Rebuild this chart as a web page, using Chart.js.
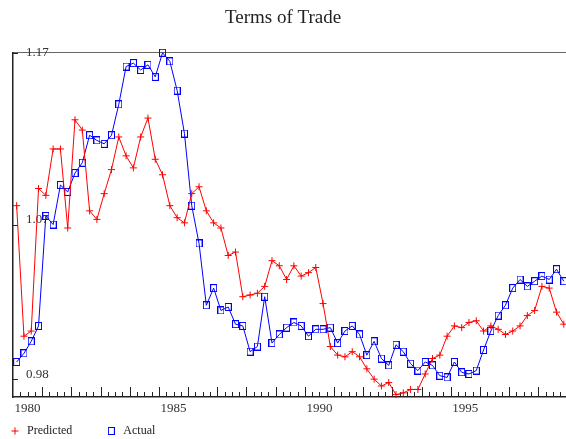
<!DOCTYPE html>
<html>
<head>
<meta charset="utf-8">
<script src="https://cdn.jsdelivr.net/npm/chart.js@4/dist/chart.umd.min.js"></script>
<style>
  body { margin: 0; background: #fff; overflow: hidden; }
</style>
</head>
<body>
<canvas id="grafico" width="566" height="439"></canvas>
<script>
// quarters 1980Q1 .. 1998Q4
const startYear = 1980;
const endYear = 1998;
const quarters = [];
for (let yr = startYear; yr <= endYear; yr++) {
  for (let q = 1; q <= 4; q++) quarters.push(yr + "Q" + q);
}

const predicted = [
  1.081, 1.005, 1.008, 1.091, 1.087, 1.114, 1.114, 1.068, 1.131, 1.125,
  1.078, 1.073, 1.088, 1.102, 1.121, 1.110, 1.103, 1.121, 1.132, 1.108,
  1.099, 1.081, 1.074, 1.071, 1.088, 1.092, 1.078, 1.071, 1.068, 1.052,
  1.054, 1.028, 1.029, 1.030, 1.034, 1.049, 1.046, 1.038, 1.046, 1.040,
  1.042, 1.045, 1.024, 0.999, 0.994, 0.993, 0.996, 0.993, 0.986, 0.980,
  0.976, 0.978, 0.971, 0.972, 0.974, 0.974, 0.983, 0.992, 0.994, 1.005,
  1.011, 1.010, 1.013, 1.014, 1.008, 1.011, 1.009, 1.006, 1.008, 1.011,
  1.017, 1.020, 1.034, 1.033, 1.019, 1.012
];

const actual = [
  0.990, 0.995, 1.002, 1.011, 1.075, 1.070, 1.093, 1.089, 1.100, 1.106,
  1.122, 1.119, 1.117, 1.122, 1.140, 1.162, 1.164, 1.160, 1.163, 1.156,
  1.170, 1.165, 1.148, 1.123, 1.081, 1.059, 1.023, 1.033, 1.020, 1.022,
  1.012, 1.011, 0.996, 0.999, 1.028, 1.001, 1.006, 1.010, 1.013, 1.011,
  1.005, 1.009, 1.009, 1.010, 1.001, 1.008, 1.011, 1.006, 0.994, 1.002,
  0.992, 0.988, 1.000, 0.996, 0.989, 0.985, 0.990, 0.988, 0.982, 0.981,
  0.990, 0.984, 0.983, 0.985, 0.997, 1.008, 1.017, 1.023, 1.033, 1.038,
  1.034, 1.037, 1.040, 1.038, 1.044, 1.037
];

const yTickValues = [0.98, 1.07, 1.17];
const xLabelYears = [1980, 1985, 1990, 1995];
const yMin = 0.9696;
const yMax = 1.17;

// quarter label -> position in years (middle of the quarter)
function quarterPos(label) {
  const yr = Number(label.slice(0, 4));
  const q = Number(label.slice(5));
  return yr + (q - 0.5) / 4;
}

function serie(values) {
  return quarters.map((lab, i) => ({ x: quarterPos(lab), y: values[i] }));
}

// hollow blue rectangle marker
const cajita = document.createElement("canvas");
cajita.width = 7;
cajita.height = 8;
const cctx = cajita.getContext("2d");
cctx.strokeStyle = "#0000ff";
cctx.lineWidth = 1;
cctx.strokeRect(0.5, 0.5, 6, 7);

Chart.defaults.font.family = "'Liberation Serif', 'Times New Roman', serif";
Chart.defaults.color = "#222";

// small tick marks pointing into the plot
const marcas = {
  id: "marcas",
  beforeDatasetsDraw(chart) {
    const { ctx, chartArea, scales } = chart;
    const x = scales.x, y = scales.y;
    ctx.save();
    ctx.strokeStyle = "#222";
    ctx.lineWidth = 1;
    ctx.beginPath();
    for (let yr = startYear; yr <= endYear + 1; yr++) {
      for (let q = 0; q < 4; q++) {
        const px = Math.round(x.getPixelForValue(yr + q / 4)) + 0.5;
        if (px <= chartArea.left + 1 || px > chartArea.right) continue;
        const len = q === 0 ? 10 : 5;
        ctx.moveTo(px, chartArea.bottom);
        ctx.lineTo(px, chartArea.bottom - len);
      }
    }
    yTickValues.forEach((v) => {
      const py = Math.round(y.getPixelForValue(v)) + 0.5;
      ctx.moveTo(chartArea.left, py);
      ctx.lineTo(chartArea.left + 5, py);
    });
    ctx.stroke();
    ctx.restore();
  }
};

const config = {
  type: "line",
  data: {
    datasets: [
      {
        label: "Predicted",
        data: serie(predicted),
        borderColor: "#ff0000",
        backgroundColor: "#ff0000",
        borderWidth: 1,
        pointStyle: "cross",
        pointRadius: 3.5,
        pointBorderWidth: 1,
        pointBorderColor: "#ff0000",
        tension: 0,
        clip: false
      },
      {
        label: "Actual",
        data: serie(actual),
        borderColor: "#0000ff",
        backgroundColor: "#0000ff",
        borderWidth: 1,
        pointStyle: cajita,
        pointRadius: 4,
        tension: 0,
        clip: false
      }
    ]
  },
  options: {
    responsive: false,
    animation: false,
    events: [],
    layout: { padding: 0, autoPadding: false },
    scales: {
      x: {
        type: "linear",
        position: "bottom",
        min: 1980,
        max: 1998.95,
        afterBuildTicks: (scale) => {
          scale.ticks = xLabelYears.map((yr) => ({ value: yr + 0.5 }));
        },
        afterFit: (scale) => { scale.height = 19; },
        ticks: {
          callback: (v) => String(Math.floor(v)),
          font: { size: 13 },
          color: "#333",
          padding: 3.4,
          maxRotation: 0,
          autoSkip: false
        },
        grid: { display: false, drawTicks: false },
        border: { display: true, color: "#222", width: 1.5 }
      },
      x2: {
        type: "linear",
        position: "top",
        min: 0,
        max: 1,
        ticks: { display: false },
        grid: { display: false, drawTicks: false },
        border: { display: true, color: "#666", width: 1 }
      },
      // outer left axis: line + lower labels
      y: {
        type: "linear",
        position: "left",
        weight: 1,
        min: yMin,
        max: yMax,
        afterBuildTicks: (scale) => {
          scale.ticks = yTickValues.slice(0, 2).map((v) => ({ value: v }));
        },
        afterFit: (scale) => { scale.width = 13; },
        ticks: {
          mirror: true,
          padding: 13,
          labelOffset: -5,
          font: { size: 13 },
          color: "#333",
          callback: (v) => v.toFixed(2)
        },
        grid: { display: false, drawTicks: false },
        border: { display: true, color: "#222", width: 1.5 }
      },
      // top label sits just under the frame
      yTop: {
        type: "linear",
        position: "left",
        weight: 0,
        min: yMin,
        max: yMax,
        afterBuildTicks: (scale) => {
          scale.ticks = yTickValues.slice(2).map((v) => ({ value: v }));
        },
        afterFit: (scale) => { scale.width = 0; },
        ticks: {
          mirror: true,
          padding: 13,
          labelOffset: 0,
          font: { size: 13 },
          color: "#333",
          callback: (v) => v.toFixed(2)
        },
        grid: { display: false, drawTicks: false },
        border: { display: false }
      }
    },
    plugins: {
      title: {
        display: true,
        text: "Terms of Trade",
        font: { size: 19, weight: "normal" },
        color: "#222",
        padding: { top: 7, bottom: 23 }
      },
      legend: {
        display: true,
        position: "bottom",
        align: "start",
        maxHeight: 23,
        labels: {
          usePointStyle: true,
          boxHeight: 5,
          padding: 9,
          font: { size: 12 },
          color: "#222",
          generateLabels: (chart) => {
            const items = Chart.defaults.plugins.legend.labels.generateLabels(chart);
            items[0].text = items[0].text + "        ";
            return items;
          }
        }
      },
      tooltip: { enabled: false }
    }
  },
  plugins: [marcas]
};

const lienzo = document.getElementById("grafico");
lienzo.chart = new Chart(lienzo, config);
</script>
</body>
</html>
